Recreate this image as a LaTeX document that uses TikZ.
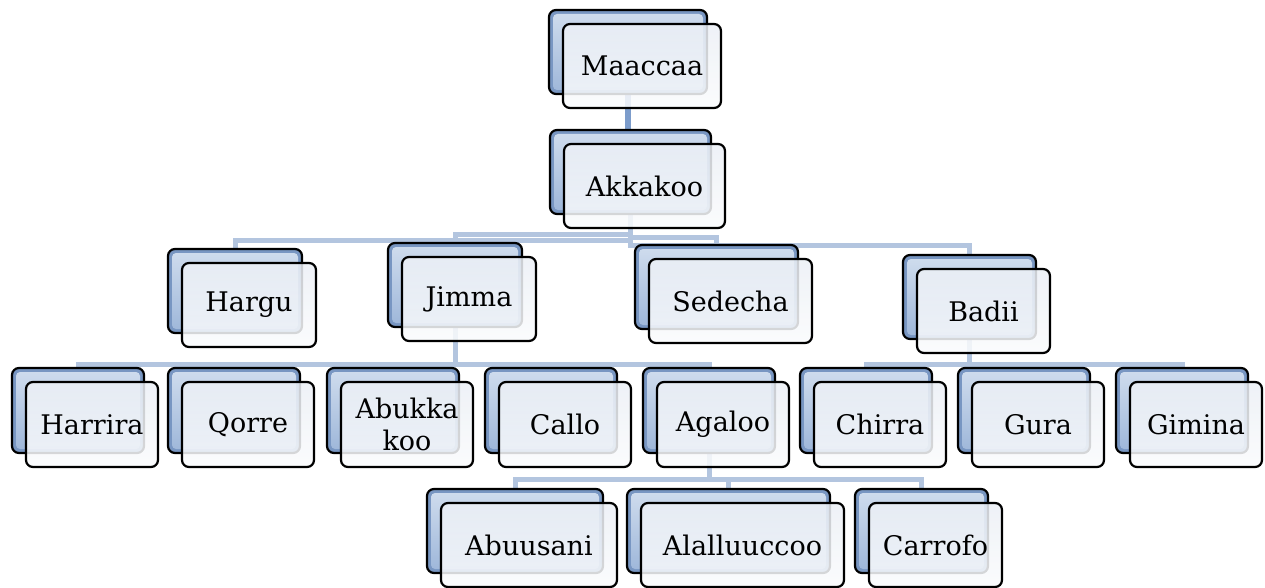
\documentclass[tikz,border=0pt]{standalone}
\usepackage{fontspec}
\setmainfont{DejaVu Serif}
\usetikzlibrary{backgrounds}
\definecolor{conn}{HTML}{B3C5DF}
\definecolor{conndark}{HTML}{7C9CCB}
\definecolor{bkout}{HTML}{7896C2}
\definecolor{bkinA}{HTML}{D0DDEE}
\definecolor{bkinB}{HTML}{9DB6D9}
\definecolor{frA}{HTML}{ECF0F6}
\definecolor{frB}{HTML}{FBFCFD}
\tikzset{
  backbox/.style={draw=black, line width=2.2pt, rounded corners=7pt, fill=bkout, inner sep=0pt,
    path picture={\shade[top color=bkinA, bottom color=bkinB, rounded corners=4pt]
      ([shift={(4pt,-4pt)}]path picture bounding box.north west) rectangle
      ([shift={(-4pt,4pt)}]path picture bounding box.south east);}},
  frontbox/.style={draw=black, line width=2.2pt, rounded corners=7pt, top color=frA, bottom color=frB,
    fill opacity=0.86, text opacity=1, inner sep=0pt, align=center,
    font=\fontsize{27}{32}\selectfont},
  link/.style={conn, line width=5pt},
  toplink/.style={conndark, line width=6pt},
}
\newcommand{\pairbox}[6]{%
  \node[backbox, minimum width=#4pt, minimum height=#5pt] (#1b) at ({#2+#4/2},{#3+#5/2}) {};
  \node[frontbox, minimum width=#4pt, minimum height=#5pt] (#1) at ({#2+#4/2+14},{#3+#5/2+14}) {#6};
}
\begin{document}
\begin{tikzpicture}[x=1pt, y=-1pt]
\useasboundingbox (0,0) rectangle (1265,588);
% level 0/1
\pairbox{maaccaa}{549}{10}{158}{84}{Maaccaa}
\pairbox{akkakoo}{550}{130}{161}{84}{Akkakoo}
% level 2
\pairbox{hargu}{168}{249}{134}{84}{Hargu}
\pairbox{jimma}{388}{243}{134}{84}{Jimma}
\pairbox{sedecha}{635}{245}{163}{84}{Sedecha}
\pairbox{badii}{903}{255}{133}{84}{Badii}
% level 3
\pairbox{harrira}{12}{368}{132}{85}{Harrira}
\pairbox{qorre}{168}{368}{132}{85}{Qorre}
\pairbox{abukkakoo}{327}{368}{132}{85}{Abukka\\koo}
\pairbox{callo}{485}{368}{132}{85}{Callo}
\pairbox{agaloo}{643}{368}{132}{85}{Agaloo}
\pairbox{chirra}{800}{368}{132}{85}{Chirra}
\pairbox{gura}{958}{368}{132}{85}{Gura}
\pairbox{gimina}{1116}{368}{132}{85}{Gimina}
% level 4
\pairbox{abuusani}{427}{489}{176}{84}{Abuusani}
\pairbox{alalluuccoo}{627}{489}{203}{84}{Alalluuccoo}
\pairbox{carrofo}{855}{489}{133}{84}{Carrofo}
\begin{scope}[on background layer]
  \fill[white] (0,0) rectangle (1265,588);
  \draw[toplink] (maaccaab.center) -- (maaccaab.center |- akkakoob.north);
  \draw[link] (akkakoob.center) -- ++(0,68) -| (hargub.north);
  \draw[link] (akkakoob.center) -- ++(0,62) -| (jimmab.north);
  \draw[link] (akkakoob.center) -- ++(0,65) -| (sedechab.north);
  \draw[link] (akkakoob.center) -- ++(0,73) -| (badiib.north);
  \draw[link] (jimmab.center) -- ++(0,79) -| (harrirab.north);
  \draw[link] (jimmab.center) -- ++(0,79) -| (qorreb.north);
  \draw[link] (jimmab.center) -- ++(0,79) -| (abukkakoob.north);
  \draw[link] (jimmab.center) -- ++(0,79) -| (callob.north);
  \draw[link] (jimmab.center) -- ++(0,79) -| (agaloob.north);
  \draw[link] (badiib.center) -- ++(0,67) -| (chirrab.north);
  \draw[link] (badiib.center) -- ++(0,67) -| (gurab.north);
  \draw[link] (badiib.center) -- ++(0,67) -| (giminab.north);
  \draw[link] (agaloob.center) -- ++(0,68.5) -| (abuusanib.north);
  \draw[link] (agaloob.center) -- ++(0,68.5) -| (alalluuccoob.north);
  \draw[link] (agaloob.center) -- ++(0,68.5) -| (carrofob.north);
\end{scope}
\end{tikzpicture}
\end{document}
